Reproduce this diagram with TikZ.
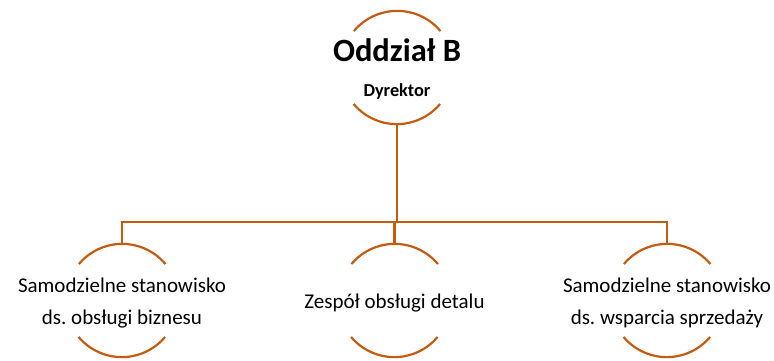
\documentclass[tikz,border=0pt]{standalone}
\usepackage{fontspec}
\setmainfont{Carlito}
\frenchspacing
\definecolor{accent}{RGB}{197,90,17}
\begin{document}
\begin{tikzpicture}[x=1pt,y=-1pt,
  unit/.style={circle,minimum size=113pt,inner sep=0pt},
  rim/.style={draw=accent,line width=2.2pt},
  link/.style={draw=accent,line width=2.2pt},
  lbl/.style={align=center,font=\fontsize{21}{32}\selectfont,text=black}]
\useasboundingbox (0,0) rectangle (774,360);
\node[unit] (top) at (397,67.5) {};
\node[unit] (c1) at (122,300.5) {};
\node[unit] (c2) at (394.5,300.5) {};
\node[unit] (c3) at (667,300.5) {};
\foreach \n in {top,c1,c2,c3}{
  \draw[rim] (\n.40) arc[start angle=-40,end angle=-140,radius=56.5];
  \draw[rim] (\n.220) arc[start angle=-220,end angle=-320,radius=56.5];
}
\node[font=\bfseries\fontsize{32.5}{38}\selectfont] (t1) at (397,50) {Oddział B};
\node[font=\bfseries\fontsize{18.3}{22}\selectfont] (t2) at (397,92) {Dyrektor};
\node[lbl] (l1) at (122,303) {Samodzielne stanowisko\\ds. obsługi biznesu};
\node[lbl] (l2) at (394.5,303) {Zespół obsługi detalu};
\node[lbl] (l3) at (667,303) {Samodzielne stanowisko\\ds. wsparcia sprzedaży};
\coordinate (bus) at (397,221.7);
\draw[link] (top.south) -- (bus);
\draw[link] (c1.north) |- (bus) -| (c3.north);
\draw[link] (c2.north) -- (c2.north |- bus);
\end{tikzpicture}
\end{document}
